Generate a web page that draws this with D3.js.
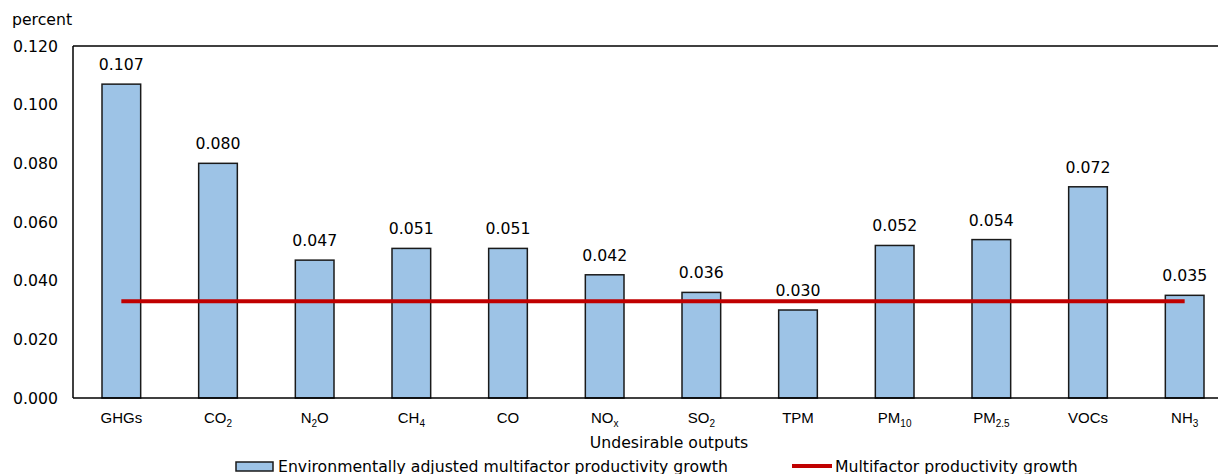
<!DOCTYPE html>
<html>
<head>
<meta charset="utf-8">
<script src="https://cdn.jsdelivr.net/npm/d3@7"></script>
<style>
  body { margin: 0; background: #fff; }
  svg { display: block; }
</style>
</head>
<body>
<script>
// categories, each as [main, subscript, tail]
var categories = [
  ["GHGs", "", ""], ["CO", "2", ""], ["N", "2", "O"], ["CH", "4", ""],
  ["CO", "", ""], ["NO", "x", ""], ["SO", "2", ""], ["TPM", "", ""],
  ["PM", "10", ""], ["PM", "2.5", ""], ["VOCs", "", ""], ["NH", "3", ""]
];
var eamfp = [0.107, 0.080, 0.047, 0.051, 0.051, 0.042, 0.036, 0.030, 0.052, 0.054, 0.072, 0.035];
var mfp = [0.033, 0.033, 0.033, 0.033, 0.033, 0.033, 0.033, 0.033, 0.033, 0.033, 0.033, 0.033];
var yTicks = [0, 0.02, 0.04, 0.06, 0.08, 0.10, 0.12];

var W = 1218, H = 474;
var margin = {left: 73, top: 46, bottom: 398, right: 1233};
var verdana = "Verdana, 'DejaVu Sans', sans-serif";
var arial = "Arial, 'Liberation Sans', sans-serif";
var fs = "15.7px";

var svg = d3.select("body").append("svg")
  .attr("width", W)
  .attr("height", H);

var keys = categories.map(function(c, i) { return "c" + i; });

var x = d3.scaleBand()
  .domain(keys)
  .range([margin.left, margin.right])
  .paddingInner(0.6)
  .paddingOuter(0.3);

var y = d3.scaleLinear()
  .domain([0, 0.12])
  .range([margin.bottom, margin.top]);

// y axis labels, no ticks
var yAxis = svg.append("g")
  .attr("transform", "translate(" + margin.left + ",0)")
  .call(d3.axisLeft(y).tickValues(yTicks).tickFormat(d3.format(".3f")).tickSize(0).tickPadding(15));
yAxis.select(".domain").remove();
yAxis.selectAll("text")
  .style("font-family", verdana)
  .style("font-size", fs)
  .attr("fill", "#000");

svg.append("text")
  .attr("x", 12).attr("y", 25)
  .style("font-family", verdana)
  .style("font-size", fs)
  .text("percent");

// top line at 0.120
svg.append("line")
  .attr("x1", margin.left).attr("x2", W)
  .attr("y1", y(0.12)).attr("y2", y(0.12))
  .attr("stroke", "#000").attr("stroke-width", 1.5);

// bars
svg.selectAll("rect.bar")
  .data(eamfp)
  .enter().append("rect")
  .attr("class", "bar")
  .attr("x", function(d, i) { return x(keys[i]); })
  .attr("y", function(d) { return y(d); })
  .attr("width", x.bandwidth())
  .attr("height", function(d) { return y(0) - y(d); })
  .attr("fill", "#9dc3e6")
  .attr("stroke", "#1a1a1a")
  .attr("stroke-width", 1.5);

// value labels
svg.selectAll("text.val")
  .data(eamfp)
  .enter().append("text")
  .attr("class", "val")
  .attr("x", function(d, i) { return x(keys[i]) + x.bandwidth() / 2; })
  .attr("y", function(d) { return y(d) - 14; })
  .attr("text-anchor", "middle")
  .style("font-family", verdana)
  .style("font-size", fs)
  .text(function(d) { return d3.format(".3f")(d); });

// axis lines
svg.append("line")
  .attr("x1", margin.left).attr("x2", margin.left)
  .attr("y1", y(0.12)).attr("y2", y(0))
  .attr("stroke", "#000").attr("stroke-width", 1.5);
svg.append("line")
  .attr("x1", margin.left).attr("x2", W)
  .attr("y1", y(0)).attr("y2", y(0))
  .attr("stroke", "#000").attr("stroke-width", 1.5);

// red mfp line
var line = d3.line()
  .x(function(d, i) { return x(keys[i]) + x.bandwidth() / 2; })
  .y(function(d) { return y(d); });
svg.append("path")
  .datum(mfp)
  .attr("d", line)
  .attr("fill", "none")
  .attr("stroke", "#c00000")
  .attr("stroke-width", 4);

// category labels with subscripts
var cat = svg.selectAll("text.cat")
  .data(categories)
  .enter().append("text")
  .attr("class", "cat")
  .attr("x", function(d, i) { return x(keys[i]) + x.bandwidth() / 2; })
  .attr("y", 423)
  .attr("text-anchor", "middle")
  .style("font-family", arial)
  .style("font-size", "15px");
cat.append("tspan").text(function(d) { return d[0]; });
cat.filter(function(d) { return d[1]; }).append("tspan")
  .attr("dy", 4)
  .style("font-size", "10px")
  .text(function(d) { return d[1]; });
cat.filter(function(d) { return d[2]; }).append("tspan")
  .attr("dy", -4)
  .text(function(d) { return d[2]; });

svg.append("text")
  .attr("x", 669).attr("y", 448)
  .attr("text-anchor", "middle")
  .style("font-family", verdana)
  .style("font-size", fs)
  .text("Undesirable outputs");

// legend
svg.append("rect")
  .attr("x", 236).attr("y", 462)
  .attr("width", 37).attr("height", 9)
  .attr("fill", "#9dc3e6")
  .attr("stroke", "#1a1a1a").attr("stroke-width", 1.5);
svg.append("text")
  .attr("x", 278).attr("y", 472)
  .style("font-family", verdana)
  .style("font-size", fs)
  .text("Environmentally adjusted multifactor productivity growth");
svg.append("line")
  .attr("x1", 792).attr("x2", 832)
  .attr("y1", 466).attr("y2", 466)
  .attr("stroke", "#c00000").attr("stroke-width", 4);
svg.append("text")
  .attr("x", 835).attr("y", 472)
  .style("font-family", verdana)
  .style("font-size", fs)
  .text("Multifactor productivity growth");
</script>
</body>
</html>
